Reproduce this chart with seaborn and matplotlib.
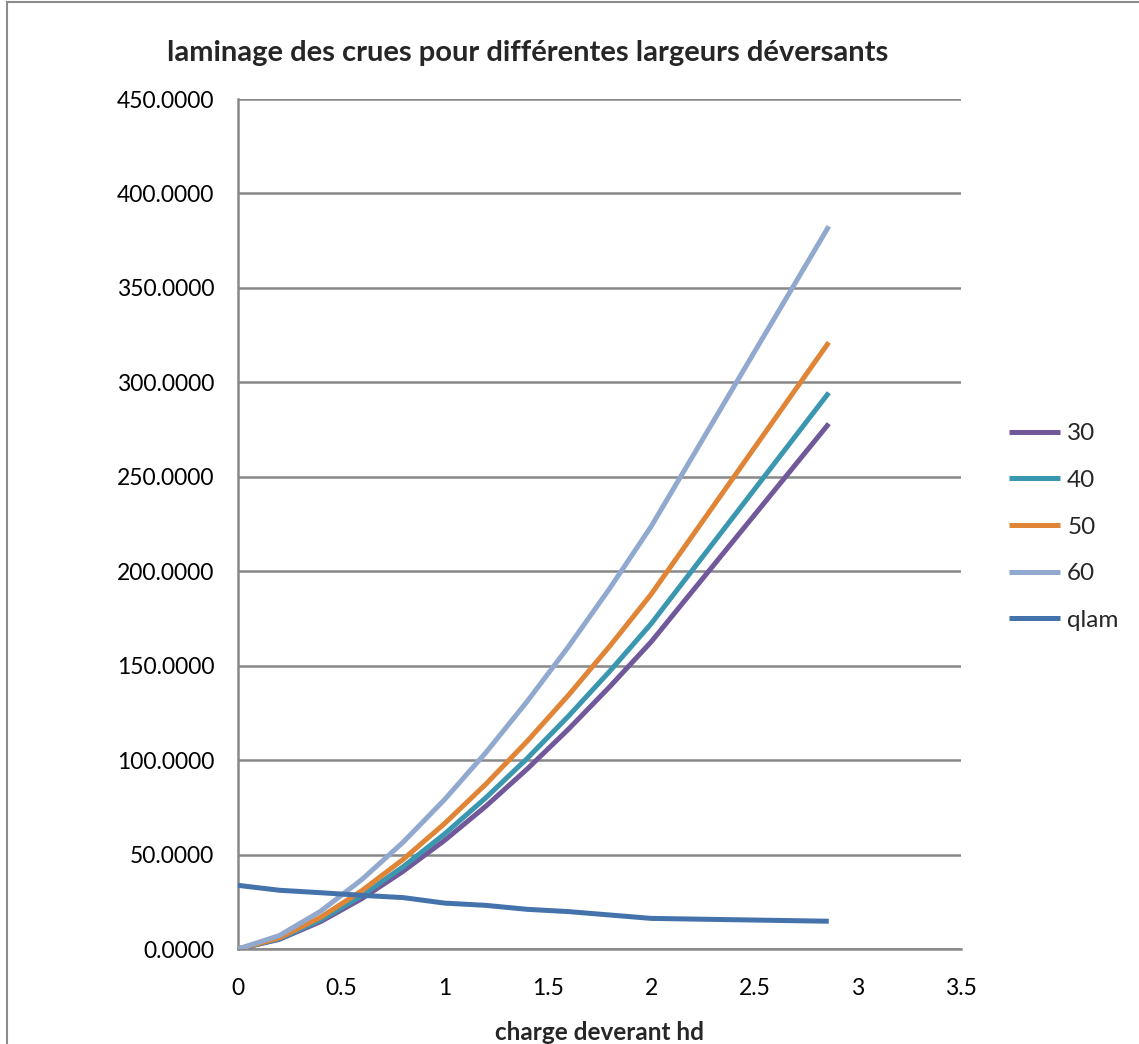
import matplotlib
matplotlib.use("Agg")
import matplotlib.pyplot as plt
from matplotlib.patches import Rectangle
from matplotlib.lines import Line2D
import seaborn as sns
import pandas as pd

# charge sur le déversoir (m)
hd = [0.0, 0.2, 0.4, 0.6, 0.8, 1.0, 1.2, 1.4, 1.6, 1.8, 2.0, 2.86]

# débits déversés pour chaque largeur de déversoir
q30 = [0.0, 5.1, 14.5, 26.7, 41.2, 57.5, 75.6, 95.3, 116.4, 138.9, 162.6, 278.1]
q40 = [0.0, 5.4, 15.4, 28.3, 43.6, 60.9, 80.1, 100.9, 123.3, 147.1, 172.2, 294.5]
q50 = [0.0, 5.9, 16.8, 30.9, 47.5, 66.4, 87.3, 110.0, 134.4, 160.4, 187.8, 321.2]
q60 = [0.0, 7.1, 20.0, 36.8, 56.6, 79.1, 104.0, 131.1, 160.1, 191.0, 223.7, 382.6]
# débit laminé
qlam = [33.7, 31.1, 29.8, 28.4, 27.2, 24.3, 23.1, 21.0, 19.8, 18.0, 16.2, 14.7]

series_names = ["30", "40", "50", "60", "qlam"]
series_values = [q30, q40, q50, q60, qlam]
series_colors = ["#71589A", "#3B96B0", "#E08435", "#92A9CF", "#4472AB"]

frames = []
for name, vals in zip(series_names, series_values):
    frames.append(pd.DataFrame({"hd": hd, "Q": vals, "serie": name}))
df = pd.concat(frames, ignore_index=True)

sns.set_style("white")
plt.rcParams["font.family"] = ["Lato", "DejaVu Sans"]

W, H = 1139, 1044
fig = plt.figure(figsize=(W / 100, H / 100), dpi=100)
ax = fig.add_axes([238 / W, 1 - 949 / H, (961 - 238) / W, (949 - 99) / H])

palette = dict(zip(series_names, series_colors))
sns.lineplot(data=df, x="hd", y="Q", hue="serie", hue_order=series_names,
             palette=palette, sort=False, estimator=None, linewidth=3.6,
             legend=False, ax=ax, zorder=3)
for ln in ax.lines:
    ln.set_solid_capstyle("butt")

grid_c = "#888888"
ax.set_xlim(0, 3.5)
ax.set_ylim(0, 450)
ax.set_xticks([0, 0.5, 1, 1.5, 2, 2.5, 3, 3.5])
ax.set_xticklabels(["0", "0.5", "1", "1.5", "2", "2.5", "3", "3.5"])
ax.set_yticks(range(0, 451, 50))
ax.set_yticklabels([f"{v:.4f}" for v in range(0, 451, 50)])
ax.yaxis.grid(True, color=grid_c, linewidth=1.8, zorder=0)
ax.xaxis.grid(False)
ax.set_axisbelow(True)
for s in ["top", "right"]:
    ax.spines[s].set_visible(False)
for s in ["left", "bottom"]:
    ax.spines[s].set_color(grid_c)
    ax.spines[s].set_linewidth(1.8)
ax.tick_params(axis="both", which="major", direction="out", length=6,
               width=1.5, color=grid_c, labelsize=16.5, labelcolor="black")
ax.tick_params(axis="y", pad=11)
ax.tick_params(axis="x", pad=15)

ax.set_xlabel("charge deverant hd", fontsize=17.5, fontweight="bold", labelpad=16)
ax.set_ylabel("")

fig.text(528 / W, 1 - 53 / H, "laminage des crues pour différentes largeurs déversants",
         ha="center", va="center", fontsize=21, fontweight="bold")

handles = [Line2D([0], [0], color=c, lw=3.6, solid_capstyle="butt") for c in series_colors]
fig.legend(handles, series_names, loc="center left",
           bbox_to_anchor=(987 / W, 1 - 527 / H), frameon=False,
           fontsize=17.5, handlelength=2.1, handletextpad=0.3, labelspacing=1.05)

# cadre gris de la zone graphique
fig.patches.append(Rectangle((7 / W, -0.02), 1.1, 1.0 - 1.5 / H + 0.02,
                             transform=fig.transFigure, fill=False,
                             edgecolor="#8C8C8C", linewidth=1.5))

fig.savefig("out.png", dpi=100)
